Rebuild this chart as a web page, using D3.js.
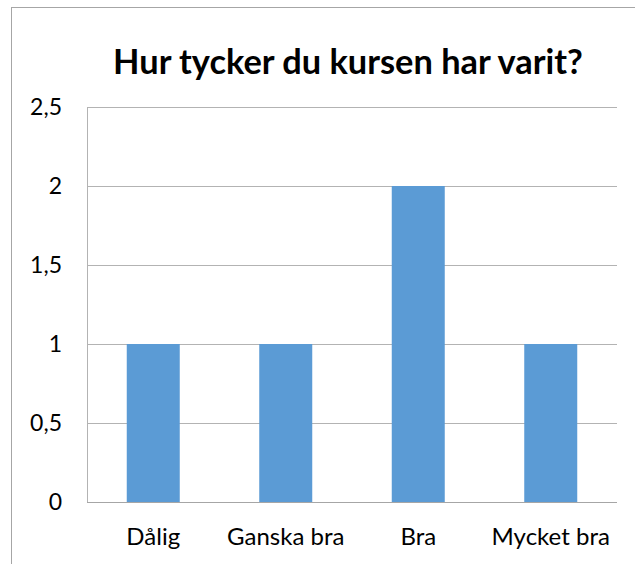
<!DOCTYPE html>
<html><head><meta charset="utf-8">
<script src="https://cdn.jsdelivr.net/npm/d3@7"></script>
<style>body{margin:0;background:#fff}svg{display:block}</style>
</head><body>
<script>
const title = "Hur tycker du kursen har varit?";
const categories = ["Dålig", "Ganska bra", "Bra", "Mycket bra"];
const values = [1, 1, 2, 1];
const yTicks = [0, 0.5, 1, 1.5, 2, 2.5];
const yTickLabels = ["0", "0,5", "1", "1,5", "2", "2,5"];

(function () {
const W = 635, H = 564;
const font = "Lato, 'Open Sans', sans-serif";
const svg = d3.select("body").append("svg").attr("width", W).attr("height", H);

// chart border (extends beyond window on right/bottom)
svg.append("rect").attr("x", 11.5).attr("y", 7.5).attr("width", 640).attr("height", 600)
  .attr("fill", "none").attr("stroke", "#a6a6a6").attr("stroke-width", 1);

const pl = 87, pr = 617, pt = 107, pb = 502;
const x = d3.scaleBand().domain(categories).range([pl, pr]).paddingInner(0.6).paddingOuter(0.3);
const y = d3.scaleLinear().domain([0, 2.5]).range([pb, pt]);

// gridlines
svg.append("g").selectAll("line").data(yTicks).join("line")
  .attr("x1", pl).attr("x2", pr)
  .attr("y1", d => Math.round(y(d)) + 0.5).attr("y2", d => Math.round(y(d)) + 0.5)
  .attr("stroke", "#b3b3b3").attr("stroke-width", 1);
// left axis line
svg.append("line").attr("x1", pl + 0.5).attr("x2", pl + 0.5).attr("y1", pt).attr("y2", pb)
  .attr("stroke", "#b3b3b3");

// bars
svg.append("g").selectAll("rect").data(values).join("rect")
  .attr("x", (d, i) => x(categories[i])).attr("width", x.bandwidth())
  .attr("y", d => y(d)).attr("height", d => y(0) - y(d))
  .attr("fill", "#5b9bd5");

// bottom axis line on top
svg.append("line").attr("x1", pl).attr("x2", pr).attr("y1", pb + 0.5).attr("y2", pb + 0.5)
  .attr("stroke", "#a6a6a6");

// y tick labels
svg.append("g").selectAll("text").data(yTicks).join("text")
  .attr("x", 62).attr("y", d => y(d)).attr("dy", "0.36em")
  .attr("text-anchor", "end").attr("font-family", font).attr("font-size", 23)
  .attr("fill", "#000").text((d, i) => yTickLabels[i]);

// x labels
svg.append("g").selectAll("text").data(categories).join("text")
  .attr("x", d => x(d) + x.bandwidth() / 2).attr("y", 545)
  .attr("text-anchor", "middle").attr("font-family", font).attr("font-size", 24)
  .attr("fill", "#000").text(d => d);

// title
const t = svg.append("text").attr("x", 348).attr("y", 74).attr("text-anchor", "middle")
  .attr("font-family", font).attr("font-weight", "bold").attr("font-size", 30)
  .attr("fill", "#000").text(title);
const tw = t.node().getComputedTextLength();
if (tw > 0) t.attr("font-size", 30 * 470 / tw);
})();
</script>
</body></html>
